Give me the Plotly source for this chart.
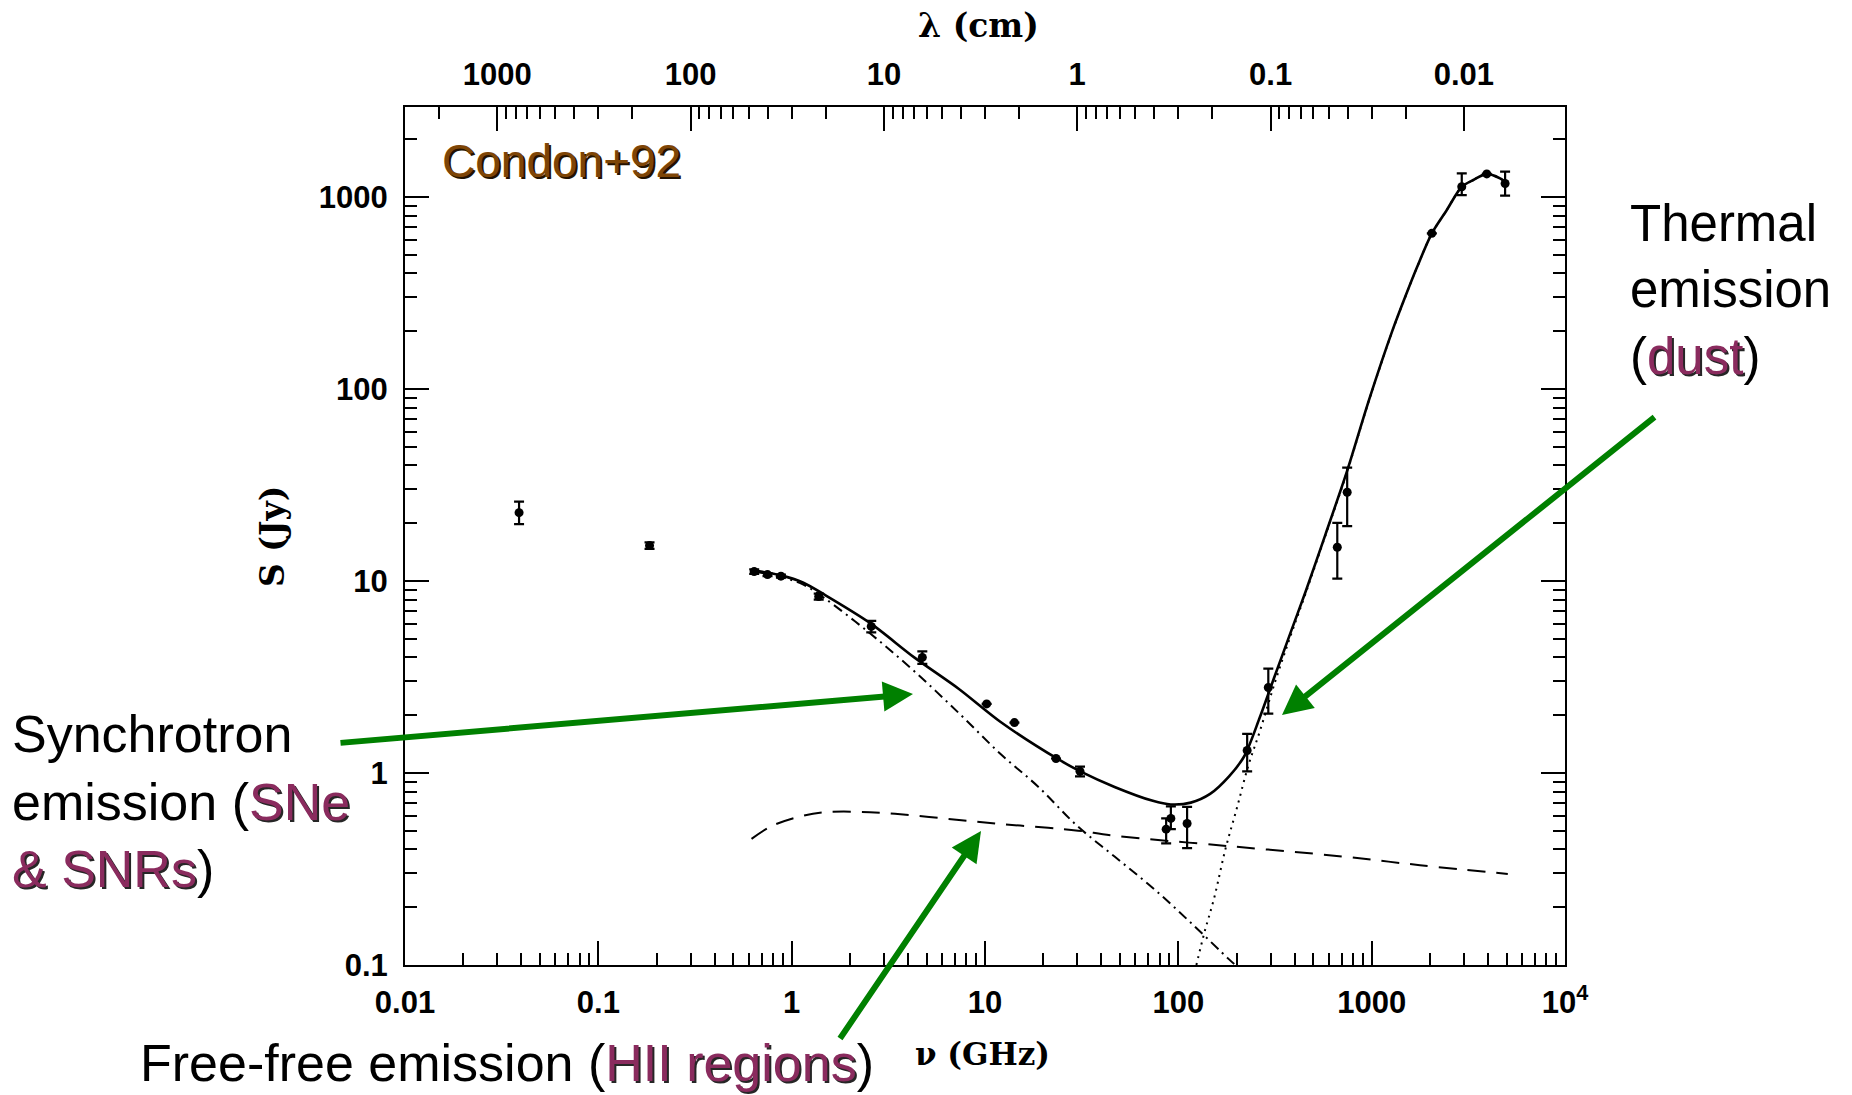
import plotly.graph_objects as go

# ---------------- data ----------------
# observed flux densities  (nu in GHz, S in Jy)
nu_obs = [0.0389, 0.184, 0.64, 0.75, 0.88, 1.38, 2.58, 4.74, 10.2, 14.2, 23.3, 31.0,
          86.5, 91.5, 111, 227, 292, 664, 747, 2047, 2924, 3939, 4900]
S_obs = [22.7, 15.3, 11.2, 10.8, 10.6, 8.3, 5.8, 4.0, 2.29, 1.83, 1.19, 1.02,
         0.51, 0.58, 0.546, 1.31, 2.79, 15.0, 29.0, 647, 1132, 1320, 1177]
err_up = [3.2, 0.6, 0.3, 0.2, 0.2, 0.3, 0.4, 0.3, 0, 0, 0, 0.06,
          0.07, 0.09, 0.12, 0.29, 0.71, 5.1, 10.0, 0, 196, 0, 178]
err_dn = [2.9, 0.6, 0.3, 0.2, 0.2, 0.3, 0.4, 0.3, 0, 0, 0, 0.06,
          0.08, 0.07, 0.14, 0.29, 0.75, 4.7, 9.7, 0, 109, 0, 161]

# total model (solid)
nu_tot = [0.62, 0.88, 1.15, 1.49, 2.54, 4.32, 7.33, 12.0, 23.9, 31.1, 46.8, 73.8, 91.4,
          116, 146, 183, 220, 264, 316, 379, 455, 577, 748, 970, 1288, 1500, 1718, 2047,
          2447, 2924, 3357, 3939, 4613, 4900]
S_tot = [11.4, 10.7, 9.8, 8.45, 6.05, 3.99, 2.74, 1.85, 1.18, 1.02, 0.846, 0.716, 0.686,
         0.701, 0.778, 0.96, 1.23, 1.95, 3.22, 5.32, 8.79, 17.5, 37.7, 88.0, 205, 307, 432, 647,
         856, 1132, 1227, 1320, 1251, 1200]

# synchrotron (dash-dot)
nu_syn = [0.64, 0.88, 1.15, 1.49, 2.54, 4.32, 7.33, 12.0, 18.9, 29.7, 46.8, 73.8, 116, 183, 197]
S_syn = [11.2, 10.5, 9.57, 8.09, 5.34, 3.38, 2.05, 1.26, 0.846, 0.535, 0.367, 0.252, 0.166, 0.107, 0.100]

# free-free (dashed)
nu_ff = [0.62, 0.79, 1.15, 1.49, 2.54, 4.32, 7.33, 12.0, 21.2, 30.3, 46.8, 183, 716, 1778, 5060]
S_ff = [0.454, 0.530, 0.600, 0.625, 0.625, 0.600, 0.569, 0.543, 0.518, 0.501, 0.471, 0.416,
        0.367, 0.331, 0.298]

# thermal dust (dotted)
nu_dust = [124, 136, 153, 175, 201, 230, 264, 316, 379, 455, 577, 748, 970, 1288, 1500, 1718,
           2047, 2447, 2924, 3357, 3939, 4613, 4900]
S_dust = [0.100, 0.146, 0.222, 0.399, 0.659, 1.09, 1.65, 2.97, 5.11, 8.6, 17.3, 37.3, 87.6,
          204, 306, 431, 646, 855, 1131, 1226, 1319, 1250, 1199]

# tick labels
x_tickvals = [0.01, 0.1, 1, 10, 100, 1000, 10000]
x_ticktext = ["0.01", "0.1", "1", "10", "100", "1000", "10<sup>4</sup>"]
y_tickvals = [0.1, 1, 10, 100, 1000]
y_ticktext = ["0.1", "1", "10", "100", "1000"]
lam_major = [1000, 100, 10, 1, 0.1, 0.01]          # wavelength, cm
lam_text = ["1000", "100", "10", "1", "0.1", "0.01"]
C_CM_GHZ = 30.0                                      # lambda[cm] = 30 / nu[GHz]

# ---------------- styling ----------------
W, H = 1852, 1095
L, R, T, B = 405, 1565, 107, 965
PW, PH = R - L, B - T
GREEN = "#008000"
PINK = "#8A2B5E"
BROWN = "#7E4506"
TICKFONT = dict(family="Liberation Sans, Arial, Helvetica, sans-serif",
                size=31, color="black", weight="bold")
SERIF = "DejaVu Serif, Liberation Serif, serif"
LABFONT = "Liberation Sans, Arial, Helvetica, sans-serif"


def px(x):
    return (x - L) / PW


def py(y):
    return (B - y) / PH


def minor_vals(lo, hi):
    out = []
    for e in range(lo, hi):
        for k in range(2, 10):
            out.append(k * 10.0 ** e)
    return out


x_minor = minor_vals(-2, 4)
y_minor = [v for v in minor_vals(-1, 4) if v < 2900]
lam_minor = [C_CM_GHZ / v for v in minor_vals(-2, 4) if 0.01 < C_CM_GHZ / v < 10000]
nu_lam_major = [C_CM_GHZ / l for l in lam_major]

fig = go.Figure()

fig.add_trace(go.Scatter(x=nu_ff, y=S_ff, mode="lines", xaxis="x2",
                         line=dict(color="rgba(0,0,0,0)", width=0), hoverinfo="skip",
                         showlegend=False))
fig.add_trace(go.Scatter(x=nu_ff, y=S_ff, mode="lines",
                         line=dict(color="black", width=2, dash="18px,11px", shape="spline"),
                         showlegend=False))
fig.add_trace(go.Scatter(x=nu_syn, y=S_syn, mode="lines",
                         line=dict(color="black", width=2, dash="10px,5px,2px,5px", shape="spline"),
                         showlegend=False))
fig.add_trace(go.Scatter(x=nu_dust, y=S_dust, mode="lines",
                         line=dict(color="black", width=2, dash="2px,5px", shape="spline"),
                         showlegend=False))
fig.add_trace(go.Scatter(x=nu_tot, y=S_tot, mode="lines",
                         line=dict(color="black", width=2.6, shape="spline", smoothing=0.8),
                         showlegend=False))
fig.add_trace(go.Scatter(x=nu_obs, y=S_obs, mode="markers",
                         marker=dict(color="black", size=9, symbol="circle"),
                         error_y=dict(type="data", symmetric=False, array=err_up,
                                      arrayminus=err_dn, color="black", thickness=2.2, width=5),
                         showlegend=False))

axis_common = dict(type="log", showgrid=False, zeroline=False, ticks="inside",
                   tickwidth=2, tickcolor="black", tickfont=TICKFONT)

fig.update_layout(
    width=W, height=H, autosize=False,
    margin=dict(l=L, r=W - R, t=T, b=H - B, pad=0),
    paper_bgcolor="white", plot_bgcolor="white",
    xaxis=dict(**axis_common, range=[-2, 4], showline=True, linecolor="black", linewidth=2,
               mirror=True, ticklen=24, tickmode="array", tickvals=x_tickvals,
               ticktext=x_ticktext, ticklabelstandoff=9,
               minor=dict(ticks="inside", ticklen=12, tickwidth=2, tickcolor="black",
                          tickmode="array", tickvals=x_minor, showgrid=False)),
    xaxis2=dict(**axis_common, range=[-2, 4], overlaying="x", side="top", anchor="y",
                showline=False, ticklen=24, tickmode="array", tickvals=nu_lam_major,
                ticktext=lam_text, ticklabelstandoff=15,
                minor=dict(ticks="inside", ticklen=12, tickwidth=2, tickcolor="black",
                           tickmode="array", tickvals=lam_minor, showgrid=False)),
    yaxis=dict(**axis_common, range=[-1, 3.469], showline=True, linecolor="black", linewidth=2,
               mirror="ticks", ticklen=24, tickmode="array", tickvals=y_tickvals,
               ticktext=y_ticktext, ticklabelstandoff=9,
               minor=dict(ticks="inside", ticklen=12, tickwidth=2, tickcolor="black",
                          tickmode="array", tickvals=y_minor, showgrid=False)),
    showlegend=False,
)

# axis titles
fig.add_annotation(text="λ (cm)", xref="paper", yref="paper", x=px(978), y=py(25),
                   showarrow=False, font=dict(family=SERIF, size=33, color="black", weight="bold"),
                   xanchor="center", yanchor="middle")
fig.add_annotation(text="ν (GHz)", xref="paper", yref="paper", x=px(982), y=py(1054),
                   showarrow=False, font=dict(family=SERIF, size=31, color="black", weight="bold"),
                   xanchor="center", yanchor="middle")
fig.add_annotation(text="S (Jy)", xref="paper", yref="paper", x=px(272), y=py(537),
                   showarrow=False, font=dict(family=SERIF, size=33, color="black", weight="bold"),
                   textangle=-90, xanchor="center", yanchor="middle")


def build(parts, shadow):
    """parts: list of (text, colour or None). Returns (main, shadow) html strings."""
    main, sh = "", ""
    for t, c in parts:
        if c is None:
            main += t
            sh += t
        else:
            main += f"<span style='color:{c}'>{t}</span>"
            sh += f"<span style='color:{shadow}'>{t}</span>"
    return main, sh


def add_label(parts, x, y, size, base_color="black", shadow="#262626", shadow_base="white"):
    main, sh = build(parts, shadow)
    for txt, col, dx, dy in ((sh, shadow_base, 2, -2), (main, base_color, 0, 0)):
        fig.add_annotation(text=txt, xref="paper", yref="paper", x=px(x), y=py(y),
                           xshift=dx, yshift=dy, showarrow=False, align="left",
                           xanchor="left", yanchor="middle",
                           font=dict(family=LABFONT, size=size, color=col))


add_label([("Condon+92", None)], 440, 161, 46, base_color=BROWN, shadow_base="#241200")
add_label([("Synchrotron<br>emission (", None), ("SNe", PINK), ("<br>", None),
           ("&amp; SNRs", PINK), (")", None)], 10, 801, 52)
add_label([("Thermal<br>emission<br>(", None), ("dust", PINK), (")", None)], 1628, 290, 51)
add_label([("Free-free emission (", None), ("HII regions", PINK), (")", None)], 138, 1063, 52)

# green arrows (tip position, tail offset in pixels)
for tip, tail in (((913, 694), (339, 743)),
                  ((981, 831), (839, 1040)),
                  ((1282, 715), (1656, 416))):
    fig.add_annotation(text="", xref="paper", yref="paper", x=px(tip[0]), y=py(tip[1]),
                       ax=tail[0] - tip[0], ay=tail[1] - tip[1], axref="pixel", ayref="pixel",
                       showarrow=True, arrowhead=2, arrowsize=1.0, arrowwidth=6,
                       arrowcolor=GREEN, standoff=0, startstandoff=0)

fig.write_html("out.html")
